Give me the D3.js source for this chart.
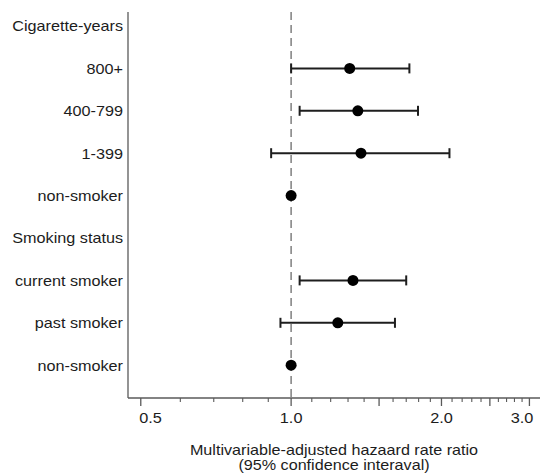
<!DOCTYPE html>
<html>
<head>
<meta charset="utf-8">
<script src="https://cdn.jsdelivr.net/npm/d3@7/dist/d3.min.js"></script>
<style>
  html, body { margin: 0; padding: 0; background: #fff; }
  svg { display: block; font-family: "Liberation Sans", Arial, sans-serif; }
</style>
</head>
<body>
<svg id="chart" width="543" height="473"></svg>
<script>
// Rows from top to bottom; header rows carry no estimate
const rowLabels = ["Cigarette-years", "800+", "400-799", "1-399", "non-smoker",
                   "Smoking status", "current smoker", "past smoker", "non-smoker"];
const estimates = [null, 1.31, 1.36, 1.38, 1.00, null, 1.33, 1.24, 1.00];
const lowerCI   = [null, 1.00, 1.04, 0.912, null, null, 1.04, 0.952, null];
const upperCI   = [null, 1.725, 1.795, 2.075, null, null, 1.70, 1.614, null];

const labeledTicks = [0.5, 1.0, 2.0, 3.0];
const unlabeledMajor = [1.5, 2.5];
const minorTicks = [0.6, 0.7, 0.8, 0.9, 1.1, 1.2, 1.3, 1.4, 1.6, 1.7, 1.8, 1.9,
                    2.1, 2.2, 2.3, 2.4, 2.6, 2.7, 2.8, 2.9];
const xDomain = [0.4714, 3.15];
const xTitle = ["Multivariable-adjusted hazaard rate ratio", "(95% confidence interaval)"];

const svg = d3.select("#chart");
const plot = { left: 128, right: 540, top: 12, bottom: 398 };

const x = d3.scaleLog().domain(xDomain).range([plot.left, plot.right]);
const y = d3.scalePoint().domain(d3.range(rowLabels.length)).range([26, 365.2]);

const axisColor = "#5a5a5a";
const textColor = "#1c1c1c";

// text with a slightly widened glyph run
function label(xx, yy, str, size, sx, anchor) {
  return svg.append("text")
    .attr("transform", `translate(${xx},${yy}) scale(${sx},1)`)
    .attr("text-anchor", anchor)
    .attr("font-size", size)
    .attr("fill", textColor)
    .text(str);
}

// frame: left and bottom lines
svg.append("line").attr("x1", plot.left).attr("x2", plot.left).attr("y1", plot.top).attr("y2", plot.bottom)
  .attr("stroke", axisColor).attr("stroke-width", 1.3);
svg.append("line").attr("x1", plot.left).attr("x2", plot.right).attr("y1", plot.bottom).attr("y2", plot.bottom)
  .attr("stroke", axisColor).attr("stroke-width", 1.3);

// ticks
const tickG = svg.append("g");
labeledTicks.concat(unlabeledMajor).forEach(v => {
  tickG.append("line").attr("x1", x(v)).attr("x2", x(v)).attr("y1", plot.bottom).attr("y2", plot.bottom + 8)
    .attr("stroke", axisColor).attr("stroke-width", 1.3);
});
minorTicks.forEach(v => {
  tickG.append("line").attr("x1", x(v)).attr("x2", x(v)).attr("y1", plot.bottom).attr("y2", plot.bottom + 4)
    .attr("stroke", axisColor).attr("stroke-width", 1.1);
});

// tick labels; the end labels are kept inside the plot width
labeledTicks.forEach((v, i) => {
  let anchor = "middle", xx = x(v);
  if (i === 0) { anchor = "start"; xx = x(v) - 1.5; }
  if (i === labeledTicks.length - 1) { anchor = "end"; xx = x(v) + 4; }
  label(xx, 423, d3.format(".1f")(v), 14.3, 1.14, anchor);
});

// axis title
xTitle.forEach((t, i) => {
  label((plot.left + plot.right) / 2, 455 + i * 15, t, 14.3, 1.13, "middle");
});

// reference line at 1.0
svg.append("line").attr("x1", x(1)).attr("x2", x(1)).attr("y1", plot.top).attr("y2", plot.bottom)
  .attr("stroke", "#888").attr("stroke-width", 1.6).attr("stroke-dasharray", "8,5");

// row labels
rowLabels.forEach((t, i) => {
  label(123, y(i) + 5.3, t, 15, 1.08, "end");
});

// confidence intervals
const ciRows = d3.range(rowLabels.length).filter(i => lowerCI[i] != null);
const ci = svg.append("g").attr("stroke", "#1e1e1e").attr("stroke-width", 2);
ciRows.forEach(i => {
  ci.append("line").attr("x1", x(lowerCI[i])).attr("x2", x(upperCI[i]))
    .attr("y1", y(i)).attr("y2", y(i));
  [lowerCI[i], upperCI[i]].forEach(v => {
    ci.append("line").attr("x1", x(v)).attr("x2", x(v))
      .attr("y1", y(i) - 5).attr("y2", y(i) + 5);
  });
});

// point estimates
svg.append("g").selectAll("circle")
  .data(d3.range(rowLabels.length).filter(i => estimates[i] != null))
  .join("circle")
  .attr("cx", i => x(estimates[i])).attr("cy", i => y(i)).attr("r", 5.5)
  .attr("fill", "#000");
</script>
</body>
</html>
